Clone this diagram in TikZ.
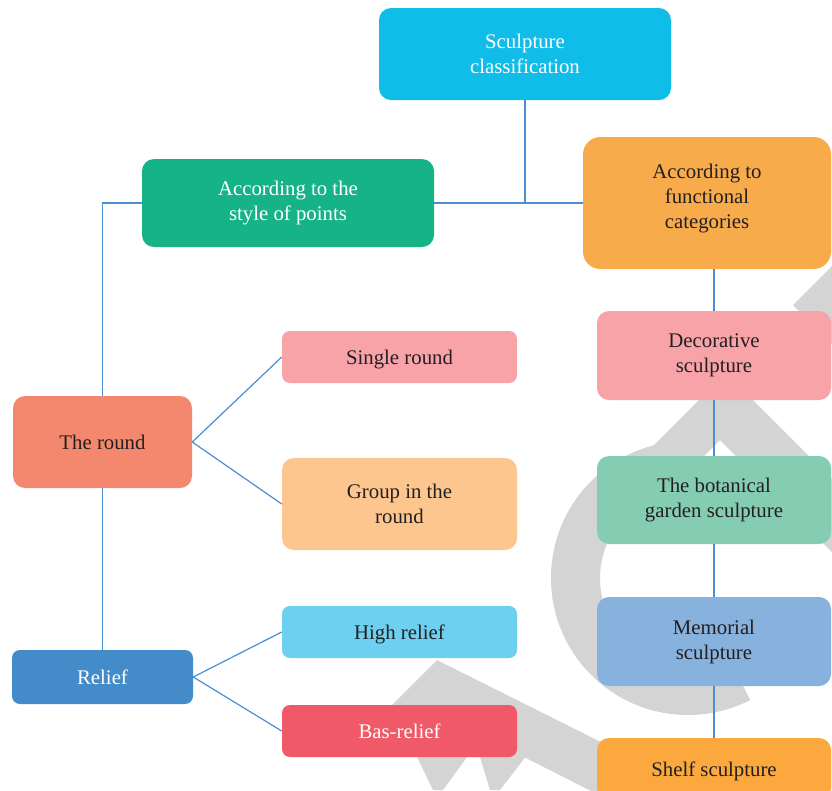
\documentclass[tikz,border=0pt]{standalone}
\usepackage{fontspec}
\setmainfont{Liberation Serif}
\definecolor{cTop}{HTML}{10BDE8}
\definecolor{cStyle}{HTML}{15B387}
\definecolor{cFunc}{HTML}{F7AB4B}
\definecolor{cDec}{HTML}{F7A3A8}
\definecolor{cBot}{HTML}{84CDB3}
\definecolor{cMem}{HTML}{87B2DE}
\definecolor{cShelf}{HTML}{FBA93F}
\definecolor{cGroup}{HTML}{FDC68F}
\definecolor{cHigh}{HTML}{6DD0F0}
\definecolor{cBas}{HTML}{F05A68}
\definecolor{cRound}{HTML}{F4886E}
\definecolor{cRelief}{HTML}{438CC9}
\definecolor{lineblue}{HTML}{4A8ED3}
\definecolor{wmgrey}{HTML}{D4D4D4}
\definecolor{txt}{HTML}{231F20}
\tikzset{
  box/.style={rectangle, rounded corners=9pt, inner sep=2pt, align=center,
    font=\fontsize{15.6}{18.75}\selectfont, text=txt},
  smallbox/.style={box, rounded corners=6pt, minimum width=176.25pt},
  rightbox/.style={box, minimum width=175.5pt},
  conn/.style={draw=lineblue, line width=0.9pt},
  wm/.style={fill=wmgrey}
}
\begin{document}
\begin{tikzpicture}[x=0.75pt,y=-0.75pt]
\useasboundingbox (0,0) rectangle (832,790);
\fill[white] (0,0) rectangle (832,790);
% watermark
\fill[wm] ([shift={(90:102.75pt)}]688,578) arc[start angle=90, end angle=297, radius=102.75pt]
  -- ([shift={(297:66pt)}]688,578) arc[start angle=297, end angle=90, radius=66pt] -- cycle;
\fill[wm] (726,373) -- (618,481) -- (668,492) -- (720,440) -- (880,600) -- (880,527) -- cycle;
\fill[wm] (793,305) -- (845,253) -- (845,357) -- cycle;
\fill[wm] (437,660) -- (660,771.5) -- (660,826) -- (525,757.5) -- (500,790) -- (490,790)
  -- (480,757) -- (467,757) -- (443,790) -- (433,790) -- (417,757) -- (385,712) -- cycle;
% nodes
\node[box, fill=cTop, text=white, minimum width=219pt, minimum height=69pt] (top) at (525,54) {Sculpture\\classification};
\node[box, fill=cStyle, text=white, minimum width=219pt, minimum height=66pt] (style) at (288,203) {According to the\\style of points};
\node[box, fill=cFunc, minimum width=186pt, minimum height=99pt, rounded corners=13pt, text depth=10.5pt] (func) at (707,203) {According to\\functional\\categories};
\node[rightbox, fill=cDec, minimum height=66.75pt] (dec) at (714,355.5) {Decorative\\sculpture};
\node[rightbox, fill=cBot, minimum height=66pt] (bot) at (714,500) {The botanical\\garden sculpture};
\node[rightbox, fill=cMem, minimum height=66.75pt] (mem) at (714,641.5) {Memorial\\sculpture};
\node[rightbox, fill=cShelf, minimum height=46.5pt, text depth=0pt] (shelf) at (714,769) {Shelf sculpture};
\node[smallbox, fill=cDec, minimum height=39pt, text depth=0pt] (single) at (399.5,357) {Single round};
\node[smallbox, fill=cGroup, minimum height=69pt, rounded corners=9pt] (group) at (399.5,504) {Group in the\\round};
\node[smallbox, fill=cHigh, minimum height=39pt, text depth=0pt] (high) at (399.5,632) {High relief};
\node[smallbox, fill=cBas, text=white, minimum height=39pt, text depth=0pt] (bas) at (399.5,731) {Bas-relief};
\node[box, fill=cRound, minimum width=134.25pt, minimum height=69pt] (round) at (102.5,442) {The round};
\node[box, fill=cRelief, text=white, minimum width=135.75pt, minimum height=40.5pt, rounded corners=6pt] (relief) at (102.5,677) {Relief};
% connectors
\draw[conn] (top.south) -- (top.south |- style.east);
\draw[conn] (style.east) -- (func.west);
\draw[conn] (style.west) -| (round.north);
\draw[conn] (round.south) -- (relief.north);
\draw[conn] (round.east) -- (single.west);
\draw[conn] (round.east) -- (group.west);
\draw[conn] (relief.east) -- (high.west);
\draw[conn] (relief.east) -- (bas.west);
\draw[conn] (dec.north) -- (dec.north |- func.south);
\draw[conn] (dec.south) -- (bot.north);
\draw[conn] (bot.south) -- (mem.north);
\draw[conn] (mem.south) -- (shelf.north);
\end{tikzpicture}
\end{document}
